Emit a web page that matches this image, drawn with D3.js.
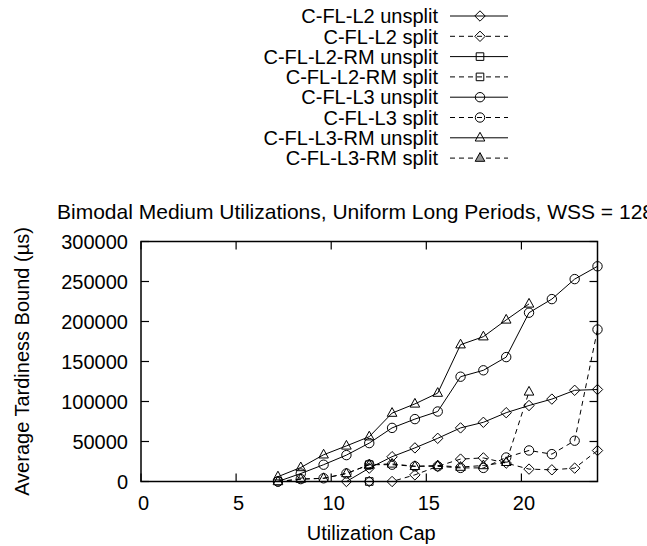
<!DOCTYPE html>
<html>
<head>
<meta charset="utf-8">
<script src="https://cdn.jsdelivr.net/npm/d3@7"></script>
<style>
  body { margin: 0; background: #fff; }
  svg { display: block; }
  text { font-family: "Liberation Sans", Arial, Helvetica, sans-serif; font-size: 20px; fill: #000; }
</style>
</head>
<body>
<script>
// utilization caps (x) shared by every series
var utilCaps = [7.2, 8.4, 9.6, 10.8, 12.0, 13.2, 14.4, 15.6, 16.8, 18.0, 19.2, 20.4, 21.6, 22.8, 24.0];

// average tardiness bound values, null = no point
var l2Unsplit   = [null, null, null, 0, 16700, 31000, 42000, 54000, 67000, 74000, 86000, 95000, 103000, 114000, 115000];
var l2Split     = [null, null, null, null, 0, 0, 8300, 19000, 28000, 29500, 23000, 15500, 14600, 16700, 38700];
var l2RmUnsplit = [null, null, null, null, 21000, null, null, null, null, null, null, null, null, null, null];
var l2RmSplit   = [null, null, null, null, 0, null, null, null, null, null, null, null, null, null, null];
var l3Unsplit   = [0, 10000, 21000, 33000, 48000, 67000, 78000, 87500, 131000, 139000, 155500, 211000, 228000, 253000, 269000];
var l3Split     = [0, 3000, 4000, 10000, 21000, 21000, 19000, 19000, 17000, 17000, 30000, 38800, 34200, 51000, 190000];
var l3RmUnsplit = [6000, 17500, 33400, 44500, 56000, 85500, 97000, 110500, 171000, 181000, 202000, 222000, null, null, null];
var l3RmSplit   = [0, 3000, 4000, 10000, 21000, 22000, 19000, 20000, 18000, 20000, 24000, 112000, null, null, null];

var seriesNames = ["C-FL-L2 unsplit", "C-FL-L2 split", "C-FL-L2-RM unsplit", "C-FL-L2-RM split",
                   "C-FL-L3 unsplit", "C-FL-L3 split", "C-FL-L3-RM unsplit", "C-FL-L3-RM split"];
var seriesValues = [l2Unsplit, l2Split, l2RmUnsplit, l2RmSplit, l3Unsplit, l3Split, l3RmUnsplit, l3RmSplit];
var seriesMarks  = ["diamond", "diamond", "square", "square", "circle", "circle", "triangle", "triangle"];
var seriesDashed = [false, true, false, true, false, true, false, true];

var xTicks = [0, 5, 10, 15, 20];
var yTicks = [0, 50000, 100000, 150000, 200000, 250000, 300000];

var titleText = "Bimodal Medium Utilizations, Uniform Long Periods, WSS = 128K";
var xLabel = "Utilization Cap";
var yLabel = "Average Tardiness Bound (\u00b5s)";

(function(){
    var width = 647, height = 546;
    var plot = {left: 141, right: 597.5, top: 241.5, bottom: 481.5};

    var svg = d3.select("body").append("svg")
        .attr("width", width)
        .attr("height", height);

    var x = d3.scaleLinear().domain([0, 24]).range([plot.left, plot.right]);
    var y = d3.scaleLinear().domain([0, 300000]).range([plot.bottom, plot.top]);

    //marker path around 0,0
    function markPath(kind){
        if (kind == "diamond") return "M0,-5.2L5.2,0L0,5.2L-5.2,0Z";
        if (kind == "square") return "M-3.8,-3.8H3.8V3.8H-3.8Z";
        if (kind == "triangle") return "M0,-5.5L4.8,3.2H-4.8Z";
        return d3.arc()({innerRadius: 0, outerRadius: 4.7, startAngle: 0, endAngle: 2 * Math.PI});
    }

    //title (runs off the right edge like the original)
    svg.append("text")
        .attr("x", 57)
        .attr("y", 219)
        .style("font-size", "21px")
        .text(titleText);

    //axis labels
    svg.append("text")
        .attr("x", (plot.left + plot.right) / 2 + 2)
        .attr("y", 540)
        .attr("text-anchor", "middle")
        .text(xLabel);

    svg.append("text")
        .attr("transform", "translate(29," + ((plot.top + plot.bottom) / 2) + ") rotate(-90)")
        .attr("text-anchor", "middle")
        .text(yLabel);

    //tick labels
    svg.selectAll(".xtl")
        .data(xTicks)
        .enter()
        .append("text")
        .attr("class", "xtl")
        .attr("x", function(d){ return x(d) + 2.5; })
        .attr("y", 510)
        .attr("text-anchor", "middle")
        .text(function(d){ return d; });

    svg.selectAll(".ytl")
        .data(yTicks)
        .enter()
        .append("text")
        .attr("class", "ytl")
        .attr("x", 128)
        .attr("y", function(d){ return y(d); })
        .attr("dy", "0.36em")
        .attr("text-anchor", "end")
        .text(function(d){ return d; });

    //ticks on all four sides, pointing inwards
    var ticks = svg.append("g").attr("stroke", "#000").attr("stroke-width", 1.2);
    xTicks.forEach(function(t){
        ticks.append("line").attr("x1", x(t)).attr("x2", x(t)).attr("y1", plot.bottom).attr("y2", plot.bottom - 8);
        ticks.append("line").attr("x1", x(t)).attr("x2", x(t)).attr("y1", plot.top).attr("y2", plot.top + 8);
    });
    yTicks.forEach(function(t){
        ticks.append("line").attr("x1", plot.left).attr("x2", plot.left + 8).attr("y1", y(t)).attr("y2", y(t));
        ticks.append("line").attr("x1", plot.right).attr("x2", plot.right - 8).attr("y1", y(t)).attr("y2", y(t));
    });

    //series lines and points
    var line = d3.line()
        .defined(function(d){ return d[1] !== null; })
        .x(function(d){ return x(d[0]); })
        .y(function(d){ return y(d[1]); });

    seriesValues.forEach(function(vals, i){
        var pts = utilCaps.map(function(c, j){ return [c, vals[j]]; });
        var g = svg.append("g").attr("class", "series");
        g.append("path")
            .datum(pts)
            .attr("fill", "none")
            .attr("stroke", "#000")
            .attr("stroke-width", 1)
            .attr("stroke-dasharray", seriesDashed[i] ? "5,4" : null)
            .attr("d", line);
        g.selectAll(".pt")
            .data(pts.filter(function(d){ return d[1] !== null; }))
            .enter()
            .append("path")
            .attr("class", "pt")
            .attr("transform", function(d){ return "translate(" + x(d[0]) + "," + y(d[1]) + ")"; })
            .attr("d", markPath(seriesMarks[i]))
            .attr("fill", "none")
            .attr("stroke", "#000")
            .attr("stroke-width", 1);
    });

    //frame
    svg.append("rect")
        .attr("x", plot.left)
        .attr("y", plot.top)
        .attr("width", plot.right - plot.left)
        .attr("height", plot.bottom - plot.top)
        .attr("fill", "none")
        .attr("stroke", "#000")
        .attr("stroke-width", 1.5);

    //legend
    var legend = svg.append("g").attr("class", "legend");
    seriesNames.forEach(function(name, i){
        var cy = 16 + i * 20.3;
        legend.append("text")
            .attr("x", 438)
            .attr("y", cy)
            .attr("dy", "0.36em")
            .attr("text-anchor", "end")
            .text(name);
        legend.append("line")
            .attr("x1", 450).attr("x2", 508)
            .attr("y1", cy).attr("y2", cy)
            .attr("stroke", "#000")
            .attr("stroke-width", 1)
            .attr("stroke-dasharray", seriesDashed[i] ? "5,4" : null);
        legend.append("path")
            .attr("transform", "translate(480," + cy + ")")
            .attr("d", markPath(seriesMarks[i]))
            .attr("fill", i == 7 ? "#999" : "none")
            .attr("stroke", "#000")
            .attr("stroke-width", 1);
    });
})();
</script>
</body>
</html>
